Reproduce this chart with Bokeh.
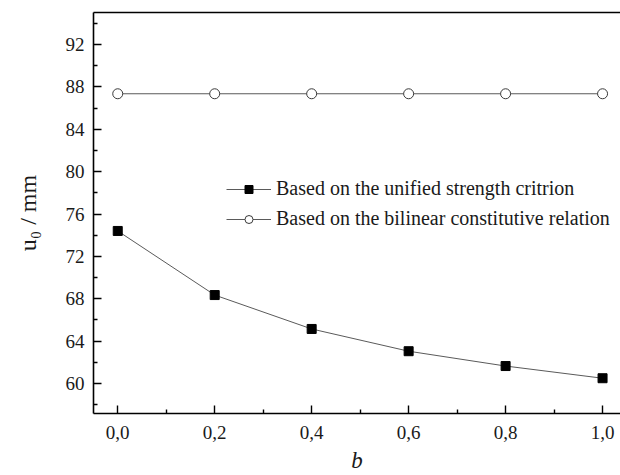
from bokeh.plotting import figure
from bokeh.models import (Legend, LegendItem, LinearAxis, FixedTicker,
                          Range1d, ColumnDataSource)
from bokeh.embed import file_html
from bokeh.resources import INLINE

# ---- data ----
b_values = [0.0, 0.2, 0.4, 0.6, 0.8, 1.0]
u_unified = [74.4, 68.35, 65.15, 63.05, 61.65, 60.5]
u_bilinear = [87.35, 87.35, 87.35, 87.35, 87.35, 87.35]
x_tick_values = [0.0, 0.2, 0.4, 0.6, 0.8, 1.0]
x_tick_labels = ["0,0", "0,2", "0,4", "0,6", "0,8", "1,0"]
y_tick_values = [60, 64, 68, 72, 76, 80, 84, 88, 92]
series_names = ["Based on the unified strength critrion",
                "Based on the bilinear constitutive relation"]

FONT = "Liberation Serif"

p = figure(width=620, height=475, output_backend="svg", toolbar_location=None,
           x_range=Range1d(-0.05, 1.037), y_range=Range1d(57.17, 95.02),
           min_border_left=93, min_border_right=0, min_border_top=12,
           min_border_bottom=62)
p.outline_line_color = None
p.grid.visible = False
p.background_fill_color = "white"
p.border_fill_color = "white"

for ax in (p.xaxis[0], p.yaxis[0]):
    ax.axis_line_width = 1.6
    ax.axis_line_color = "black"
    ax.major_tick_in = 8
    ax.major_tick_out = 0
    ax.minor_tick_in = 4
    ax.minor_tick_out = 0
    ax.major_tick_line_width = 1.4
    ax.minor_tick_line_width = 1.4
    ax.major_tick_line_color = "black"
    ax.minor_tick_line_color = "black"
    ax.major_label_text_font = FONT
    ax.major_label_text_font_size = "19px"
    ax.major_label_text_color = "#1a1a1a"
    ax.axis_label_text_font = FONT
    ax.axis_label_text_color = "#1a1a1a"

p.xaxis.ticker = FixedTicker(ticks=x_tick_values,
                             minor_ticks=[0.1, 0.3, 0.5, 0.7, 0.9])
p.xaxis.major_label_overrides = {v: s for v, s in zip(x_tick_values, x_tick_labels)}
p.xaxis.major_label_standoff = 12
p.xaxis.axis_label = "b"
p.xaxis.axis_label_text_font_style = "italic"
p.xaxis.axis_label_text_font_size = "23px"
p.xaxis.axis_label_standoff = 6

p.yaxis.ticker = FixedTicker(ticks=y_tick_values,
                             minor_ticks=[58, 62, 66, 70, 74, 78, 82, 86, 90, 94])
p.yaxis.major_label_standoff = 9
p.yaxis.axis_label = "u\u2080 / mm"
p.yaxis.axis_label_text_font_style = "normal"
p.yaxis.axis_label_text_font_size = "24px"
p.yaxis.axis_label_standoff = 22

top_axis = LinearAxis(ticker=FixedTicker(ticks=[]), axis_line_width=1.6,
                      axis_line_color="black", major_tick_line_color=None,
                      minor_tick_line_color=None)
p.add_layout(top_axis, "above")

src = ColumnDataSource(dict(b=b_values, u1=u_unified, u2=u_bilinear))
l1 = p.line("b", "u1", source=src, line_color="#5a5a5a", line_width=1)
m1 = p.scatter("b", "u1", source=src, marker="square", size=9,
               fill_color="black", line_color="black")
l2 = p.line("b", "u2", source=src, line_color="#5a5a5a", line_width=1)
m2 = p.scatter("b", "u2", source=src, marker="circle", size=10,
               fill_color="white", line_color="#3a3a3a", line_width=1)

legend = Legend(items=[LegendItem(label=series_names[0], renderers=[l1, m1]),
                       LegendItem(label=series_names[1], renderers=[l2, m2])],
                location=(133, 183), glyph_width=45, glyph_height=20,
                label_height=20, spacing=7, padding=0, margin=0,
                label_standoff=5, background_fill_alpha=0,
                border_line_color=None, label_text_font=FONT,
                label_text_font_size="20px", label_text_color="#1a1a1a")
p.add_layout(legend, "center")

open("out.html", "w").write(file_html(p, INLINE))
